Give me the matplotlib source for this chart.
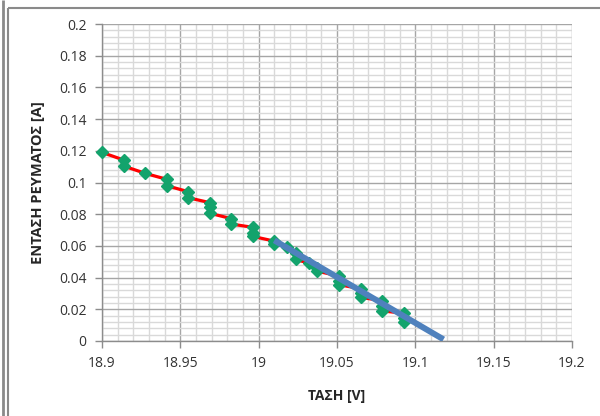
import matplotlib
matplotlib.use("Agg")
import matplotlib.pyplot as plt
from matplotlib.lines import Line2D
from matplotlib.ticker import MultipleLocator

# Measured voltage / current pairs (V, A)
voltage = [18.900,
           18.9138, 18.9138,
           18.9275,
           18.9413, 18.9413,
           18.9550, 18.9550,
           18.9688, 18.9688, 18.9688,
           18.9825, 18.9825,
           18.9963, 18.9963, 18.9963,
           19.0100, 19.0100,
           19.0180,
           19.0238, 19.0238,
           19.0320,
           19.0375, 19.0375,
           19.0513, 19.0513, 19.0513,
           19.0650, 19.0650, 19.0650,
           19.0788, 19.0788, 19.0788,
           19.0925, 19.0925, 19.0925]
current = [0.1190,
           0.1142, 0.1104,
           0.1058,
           0.1020, 0.0980,
           0.0942, 0.0904,
           0.0873, 0.0843, 0.0806,
           0.0772, 0.0738,
           0.0717, 0.0683, 0.0660,
           0.0630, 0.0612,
           0.0595,
           0.0553, 0.0515,
           0.0490,
           0.0459, 0.0440,
           0.0410, 0.0380, 0.0355,
           0.0330, 0.0300, 0.0275,
           0.0255, 0.0220, 0.0190,
           0.0175, 0.0145, 0.0120]

# Linear fit line endpoints
fit_voltage = [19.0100, 19.1180]
fit_current = [0.0635, 0.0010]

x_ticks = [18.9, 18.95, 19.0, 19.05, 19.1, 19.15, 19.2]
x_tick_labels = ["18.9", "18.95", "19", "19.05", "19.1", "19.15", "19.2"]
y_ticks = [0, 0.02, 0.04, 0.06, 0.08, 0.1, 0.12, 0.14, 0.16, 0.18, 0.2]
y_tick_labels = ["0", "0.02", "0.04", "0.06", "0.08", "0.1", "0.12",
                 "0.14", "0.16", "0.18", "0.2"]

plt.rcParams['font.family'] = ['Open Sans', 'DejaVu Sans']

W, H = 600, 416
fig = plt.figure(figsize=(W / 100, H / 100), dpi=100)
ax = fig.add_axes([102 / W, 1 - 341 / H, (572 - 102) / W, (341 - 24) / H])

ax.set_xlim(18.9, 19.2)
ax.set_ylim(0, 0.2)
ax.set_xticks(x_ticks)
ax.set_xticklabels(x_tick_labels)
ax.set_yticks(y_ticks)
ax.set_yticklabels(y_tick_labels)
ax.xaxis.set_minor_locator(MultipleLocator(0.01))
ax.yaxis.set_minor_locator(MultipleLocator(0.004))

ax.grid(which='minor', color='#d9d9d9', linewidth=1.0)
ax.grid(which='major', color='#a6a6a6', linewidth=1.0)
ax.set_axisbelow(True)

for s in ['top', 'right']:
    ax.spines[s].set_visible(False)
for s in ['left', 'bottom']:
    ax.spines[s].set_color('#8c8c8c')
    ax.spines[s].set_linewidth(1.0)

ax.tick_params(which='major', direction='out', length=5, width=1.0,
               color='#8c8c8c', labelsize=10, labelcolor='#333333', pad=6)
ax.tick_params(which='minor', length=0)

# Measured data: red connecting line with green diamond markers
ax.plot(voltage, current, color='#ff0000', linewidth=2.3, zorder=3,
        clip_on=False)
ax.plot(voltage, current, linestyle='none', marker='D', markersize=6.3,
        markerfacecolor='#13a36c', markeredgecolor='#13a36c', zorder=4,
        clip_on=False)

# Fitted line
ax.plot(fit_voltage, fit_current, color='#4f81bd', linewidth=4.3,
        solid_capstyle='butt', zorder=5)

ax.set_xlabel("ΤΑΣΗ [V]", fontsize=10, fontweight='bold', color='#262626',
              labelpad=13)
ax.set_ylabel("ΕΝΤΑΣΗ ΡΕΥΜΑΤΟΣ [A]", fontsize=10.5, fontweight='bold',
              color='#262626', labelpad=10)

# Chart frame
def fig_line(xs, ys, lw, color):
    fig.add_artist(Line2D([x / W for x in xs], [1 - y / H for y in ys],
                          transform=fig.transFigure, color=color,
                          linewidth=lw, solid_capstyle='butt'))

fig_line([2.5, 2.5], [0, H], 2.0, '#8a8a8a')
fig_line([8, 8], [8, H], 1.5, '#8a8a8a')
fig_line([8, W], [8, 8], 1.5, '#8a8a8a')

fig.savefig("out.png", dpi=100)
